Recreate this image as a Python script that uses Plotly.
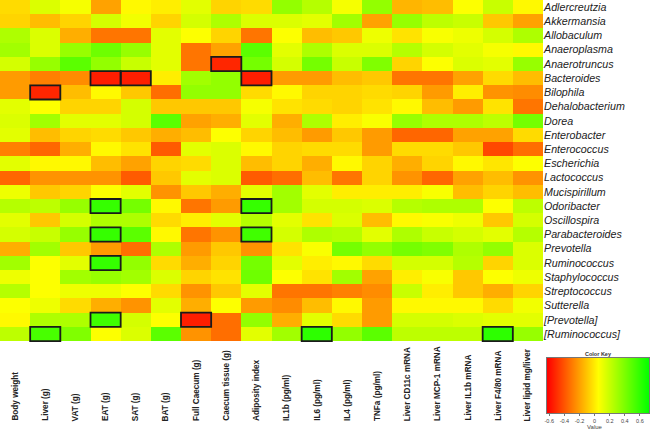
import plotly.graph_objects as go

# ---- data ----
measures = ["Body weight", "Liver (g)", "VAT (g)", "EAT (g)", "SAT (g)", "BAT (g)",
            "Full Caecum (g)", "Caecum tissue (g)", "Adiposity index", "IL1b (pg/ml)",
            "IL6 (pg/ml)", "IL4 (pg/ml)", "TNFa (pg/ml)", "Liver CD11c mRNA",
            "Liver MCP-1 mRNA", "Liver IL1b mRNA", "Liver F4/80 mRNA", "Liver lipid mg/liver"]

genera = ["Adlercreutzia", "Akkermansia", "Allobaculum", "Anaeroplasma", "Anaerotruncus",
          "Bacteroides", "Bilophila", "Dehalobacterium", "Dorea", "Enterobacter",
          "Enterococcus", "Escherichia", "Lactococcus", "Mucispirillum", "Odoribacter",
          "Oscillospira", "Parabacteroides", "Prevotella", "Ruminococcus", "Staphylococcus",
          "Streptococcus", "Sutterella", "[Prevotella]", "[Ruminococcus]"]

adlercreutzia = [-0.05, 0.14, 0.07, -0.20, 0.03, 0.00, 0.12, -0.07, -0.05, 0.33, 0.24, 0.07, 0.33, -0.15, -0.13, 0.05, 0.19, 0.03]
akkermansia = [-0.07, -0.13, -0.07, 0.16, 0.08, -0.07, 0.16, 0.26, 0.14, 0.14, 0.12, 0.29, -0.20, 0.32, 0.22, 0.19, -0.10, -0.20]
allobaculum = [0.26, 0.14, -0.17, -0.32, -0.32, 0.12, 0.05, -0.07, -0.32, 0.05, -0.13, -0.10, 0.09, -0.03, 0.06, 0.09, 0.16, 0.26]
anaeroplasma = [0.29, 0.14, 0.32, 0.43, 0.32, 0.12, -0.32, -0.20, 0.48, 0.12, 0.26, 0.14, 0.14, 0.24, 0.16, 0.12, 0.07, 0.03]
anaerotruncus = [0.16, 0.32, 0.48, 0.33, 0.19, 0.12, -0.32, -0.53, 0.41, 0.16, 0.41, 0.19, 0.38, -0.07, 0.05, 0.14, 0.12, 0.32]
bacteroides = [-0.22, -0.29, -0.26, -0.55, -0.55, 0.00, 0.29, 0.33, -0.55, -0.22, -0.22, -0.13, -0.10, -0.32, -0.32, -0.20, -0.05, -0.13]
bilophila = [-0.22, -0.53, -0.13, 0.03, -0.10, -0.34, 0.33, 0.33, -0.05, 0.03, -0.07, -0.07, -0.05, -0.07, -0.22, 0.00, -0.24, -0.26]
dehalobacterium = [0.12, 0.05, -0.07, -0.07, 0.16, -0.10, -0.10, -0.10, 0.07, -0.03, -0.05, -0.07, -0.03, 0.03, -0.13, -0.22, -0.03, -0.32]
dorea = [0.14, 0.29, 0.12, 0.12, 0.16, 0.48, -0.20, -0.17, 0.12, -0.17, 0.26, 0.00, 0.06, 0.32, 0.26, 0.26, 0.22, 0.41]
enterobacter = [0.12, -0.13, -0.07, -0.05, -0.10, -0.17, -0.13, 0.05, -0.07, -0.13, -0.22, -0.10, -0.22, -0.36, -0.36, -0.20, -0.20, -0.05]
enterococcus = [-0.29, -0.36, -0.17, 0.03, -0.03, -0.39, 0.12, 0.14, 0.03, -0.07, -0.05, -0.05, -0.22, -0.05, -0.05, -0.10, -0.44, -0.34]
escherichia = [0.12, 0.03, 0.03, -0.13, -0.20, -0.07, -0.05, 0.14, -0.13, -0.07, -0.17, 0.03, -0.07, -0.17, -0.07, 0.03, -0.02, 0.05]
lactococcus = [-0.36, -0.24, -0.24, -0.24, -0.39, -0.10, 0.12, 0.14, -0.39, -0.34, -0.13, -0.32, -0.07, -0.24, -0.36, -0.20, -0.13, -0.24]
mucispirillum = [0.09, -0.10, -0.07, 0.05, 0.12, -0.24, -0.10, -0.17, 0.12, 0.29, 0.12, 0.00, 0.00, 0.00, 0.06, -0.13, -0.07, -0.13]
odoribacter = [0.24, 0.22, 0.32, 0.58, 0.41, 0.03, -0.32, -0.22, 0.58, 0.29, 0.16, 0.16, 0.14, 0.24, 0.26, 0.26, 0.05, 0.22]
oscillospira = [0.12, -0.10, 0.16, 0.26, 0.26, -0.05, 0.00, 0.12, 0.24, 0.12, -0.03, 0.14, -0.13, 0.03, 0.06, 0.09, -0.10, 0.16]
parabacteroides = [0.16, 0.19, 0.32, 0.58, 0.48, 0.03, -0.32, -0.24, 0.55, 0.16, 0.26, 0.24, 0.12, 0.26, 0.19, 0.16, 0.12, 0.24]
prevotella = [-0.17, 0.29, -0.10, -0.22, -0.34, 0.26, -0.22, -0.10, -0.24, -0.03, 0.06, 0.41, 0.33, 0.41, 0.38, 0.26, 0.33, 0.14]
ruminococcus = [0.29, 0.05, 0.12, 0.58, 0.33, -0.05, -0.17, -0.07, 0.41, 0.12, 0.00, 0.03, -0.05, 0.16, 0.16, 0.24, -0.07, 0.14]
staphylococcus = [0.09, 0.05, 0.29, 0.32, 0.29, 0.14, -0.07, -0.03, 0.43, 0.05, -0.03, 0.29, -0.20, 0.00, 0.06, -0.10, 0.05, 0.09]
streptococcus = [0.24, 0.05, 0.09, 0.09, 0.05, -0.05, -0.24, -0.10, 0.12, -0.32, -0.32, -0.29, -0.26, 0.19, 0.00, -0.10, -0.17, -0.07]
sutterella = [0.05, 0.09, -0.05, -0.17, -0.24, 0.12, -0.17, 0.05, -0.22, -0.26, -0.13, 0.03, -0.22, 0.03, 0.03, 0.03, -0.05, 0.08]
prevotella_br = [0.03, 0.26, 0.26, 0.55, 0.16, 0.05, -0.55, -0.34, 0.33, -0.17, 0.12, -0.05, -0.22, 0.16, 0.16, 0.14, 0.12, 0.12]
ruminococcus_br = [0.22, 0.53, 0.38, 0.05, 0.14, 0.48, -0.24, -0.34, 0.12, 0.29, 0.60, 0.33, 0.48, 0.22, 0.22, 0.22, 0.60, 0.32]

# significant correlations (boxed cells): genus index, measure index
sig_rows = [4, 5, 5, 5, 6, 14, 14, 16, 16, 18, 22, 22, 23, 23, 23]
sig_cols = [7, 3, 4, 8, 1, 3, 8, 3, 8, 3, 3, 6, 1, 10, 16]

# colour key: scale stops (min, middle, max) and tick labels
key_stops = [-0.63, 0.045, 0.72]
key_ticks = [-0.6, -0.4, -0.2, 0, 0.2, 0.4, 0.6]

z = [adlercreutzia, akkermansia, allobaculum, anaeroplasma, anaerotruncus, bacteroides,
     bilophila, dehalobacterium, dorea, enterobacter, enterococcus, escherichia,
     lactococcus, mucispirillum, odoribacter, oscillospira, parabacteroides, prevotella,
     ruminococcus, staphylococcus, streptococcus, sutterella, prevotella_br, ruminococcus_br]

# ---- layout geometry (pixels) ----
W, H = 650, 432
FONT = "Arial, Liberation Sans, sans-serif"
COLORSCALE = [[0, "#ff0000"], [0.5, "#ffff00"], [1, "#00ff00"]]

def py(ypx):
    return 1 - ypx / H

def px(xpx):
    return xpx / W

fig = go.Figure()
fig.add_trace(go.Heatmap(
    z=z, x=list(range(len(measures))), y=genera,
    colorscale=COLORSCALE, zmin=key_stops[0], zmax=key_stops[-1],
    showscale=False, xaxis="x", yaxis="y",
))

# colour key drawn on its own small axes
fig.add_trace(go.Heatmap(
    z=[key_stops, key_stops], x=key_stops, y=[0, 1],
    colorscale=COLORSCALE, zmin=key_stops[0], zmax=key_stops[-1],
    zsmooth="best", showscale=False, hoverinfo="skip",
    xaxis="x2", yaxis="y2",
))

shapes = []
for r, c in zip(sig_rows, sig_cols):
    shapes.append(dict(type="rect", xref="x", yref="y",
                       x0=c - 0.5, x1=c + 0.5, y0=r - 0.5, y1=r + 0.5,
                       line=dict(color="#1a1a1a", width=1.8)))

annotations = []
for i, m in enumerate(measures):
    annotations.append(dict(
        text=m, x=i, xref="x", y=py(423), yref="paper",
        xanchor="center", yanchor="bottom", textangle=-90,
        showarrow=False, font=dict(family=FONT, size=8.2, color="#222", weight="bold")))
annotations.append(dict(text="<b>Color Key</b>", x=px(598), xref="paper", y=py(353.5), yref="paper",
                        xanchor="center", yanchor="middle", showarrow=False,
                        font=dict(family=FONT, size=5.5, color="#333")))
annotations.append(dict(text="Value", x=px(595), xref="paper", y=py(426.5), yref="paper",
                        xanchor="center", yanchor="middle", showarrow=False,
                        font=dict(family=FONT, size=6, color="#444")))

fig.update_layout(
    width=W, height=H,
    margin=dict(l=0, r=0, t=0, b=0, pad=0, autoexpand=False),
    paper_bgcolor="white", plot_bgcolor="white",
    xaxis=dict(domain=[0, px(543)], range=[-0.5, len(measures) - 0.5],
               showticklabels=False, showgrid=False, zeroline=False, ticks=""),
    yaxis=dict(domain=[py(342), 1], side="right", autorange="reversed",
               showgrid=False, zeroline=False, ticks="", ticklabelstandoff=0,
               tickfont=dict(family=FONT, size=10.7, style="italic", color="#222")),
    xaxis2=dict(domain=[px(547), px(649)], anchor="y2", range=[key_stops[0], key_stops[-1]],
                tickvals=key_ticks, ticktext=[("%g" % t) for t in key_ticks],
                ticks="outside", ticklen=2, tickcolor="#777", tickwidth=0.8,
                tickfont=dict(family=FONT, size=5.5, color="#444"),
                showline=True, linecolor="#777", linewidth=0.8, mirror=True,
                showgrid=False, zeroline=False, fixedrange=True),
    yaxis2=dict(domain=[py(413), py(358)], anchor="x2", range=[0, 1],
                showticklabels=False, ticks="", showline=True, linecolor="#777",
                linewidth=0.8, mirror=True, showgrid=False, zeroline=False, fixedrange=True),
    shapes=shapes,
    annotations=annotations,
)

fig.write_html("out.html", config={"displayModeBar": False},
               post_script="document.body.style.margin='0px';document.body.style.padding='0px';")
